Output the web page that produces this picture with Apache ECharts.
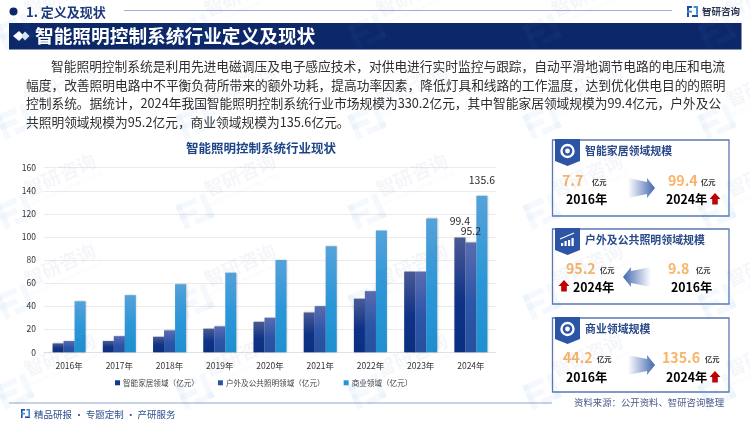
<!DOCTYPE html>
<html><head><meta charset="utf-8">
<style>html,body{margin:0;padding:0;background:#fff}#c{width:750px;height:421px}</style>
<script src="https://cdn.jsdelivr.net/npm/echarts@6/dist/echarts.min.js"></script>
</head><body><div id="c"></div>
<script>
const categories=['2016年','2017年','2018年','2019年','2020年','2021年','2022年','2023年','2024年'];
const smartHome=[7.7,9.8,13.5,20.5,26.5,34.5,46.5,70,99.4];
const outdoor=[9.8,14,19,22.5,30,40,53,70,95.2];
const commercial=[44.2,49.5,59,69,80,92,105.5,116,135.6];
const seriesNames=['智能家居领域（亿元）','户外及公共照明领域（亿元）','商业领域（亿元）'];
const paragraph=[
 '智能照明控制系统是利用先进电磁调压及电子感应技术，对供电进行实时监控与跟踪，自动平滑地调节电路的电压和电流',
 '幅度，改善照明电路中不平衡负荷所带来的额外功耗，提高功率因素，降低灯具和线路的工作温度，达到优化供电目的的照明',
 '控制系统。据统计，2024年我国智能照明控制系统行业市场规模为330.2亿元，其中智能家居领域规模为99.4亿元，户外及公',
 '共照明领域规模为95.2亿元，商业领域规模为135.6亿元。'];

const FF='"Noto Sans CJK SC","Noto Sans",sans-serif';
const NAVY='#0c2869';
const g=[];
function T(text,x,y,size,fill,weight,align,z){g.push({type:'text',silent:true,z:z||5,style:{text,x,y,fontSize:size,fontFamily:FF,fontWeight:weight||'normal',fill,textAlign:align||'left',textVerticalAlign:'middle'}});}
function R(x,y,w,h,fill,stroke,lw,z){g.push({type:'rect',silent:true,z:z||3,shape:{x,y,width:w,height:h},style:{fill,stroke:stroke||null,lineWidth:lw||0}});}
function P(points,fill,z){g.push({type:'polygon',silent:true,z:z||4,shape:{points},style:{fill}});}
function C(cx,cy,r,fill,stroke,lw){g.push({type:'circle',silent:true,z:5,shape:{cx,cy,r},style:{fill,stroke:stroke||null,lineWidth:lw||0}});}
function L(x1,y1,x2,y2,stroke,lw,z){g.push({type:'line',silent:true,z:z||3,shape:{x1,y1,x2,y2},style:{stroke,lineWidth:lw}});}
function logo(x,y,s){
  R(x,y,s*0.45,s*0.18,'#1f4e9e');R(x,y,s*0.18,s,'#1f4e9e');R(x,y+s*0.42,s*0.45,s*0.18,'#3f8fd8');
  R(x+s*0.6,y,s*0.4,s*0.18,'#3f8fd8');R(x+s*0.82,y,s*0.18,s*0.8,'#3f8fd8');R(x+s*0.45,y+s*0.82,s*0.55,s*0.18,'#1f4e9e');
}
// header
C(13.5,11.5,4,NAVY);
T('1. 定义及现状',26,12,13,'#1d3a7c','bold');
L(124,10.5,672,10.5,'#9fb0d6',1.2);
logo(687,6,11);
T('智研咨询',702,11,9.5,'#2a3550','bold');
// title bar
R(9,23,732.5,26.5,NAVY);
P([[13,36],[19,31],[24,36],[19,41]],'#fff');P([[21,36],[25,31.5],[29.5,36],[25,40.5]],'#dfe6f4');
T('智能照明控制系统行业定义及现状',35,36,18.7,'#fff','bold');
// paragraph
const pY=[66,85,103,122];
paragraph.forEach((t,i)=>T(t,i===0?51:26,pY[i],12.72,'#2e2e2e'));
// chart title
T('智能照明控制系统行业现状',261,148,12.5,'#1c4587','bold','center');
// footer
L(9,403,552,403,'#8fa3cf',1.2);
logo(21,409,9);
T('精品研报 · 专题定制 · 产研服务',34,414,9.5,'#2f4f8f');
T('资料来源：公开资料、智研咨询整理',574,402,9.4,'#4a5a8a');

// cards
function card(y,h,title,icon){
  R(552.5,y,176.5,h,'#fff','#5a78b4',1.3);
  P([[555,y-1],[580,y-1],[580,y+21],[567.5,y+26],[555,y+21]],'#2c55a6');
  if(icon==='ring'){C(567.5,y+11,6,'#2c55a6','#fff',2.4);C(567.5,y+11,2.4,'#fff');}
  else{[[561,8,3],[564.5,6,5],[568,9,6],[571.5,4,8]].forEach(a=>R(a[0],y+17-a[2],2.2,a[2],'#fff',null,0,6));L(560,y+10,574,y+4,'#fff',1.2,6);}
  T(title,585,y+11,10.9,'#2b4a8a','bold');
}
const ORANGE='#f8b469';
const VF=14.2;
function redUp(x,y){P([[x,y-6],[x+5.5,y],[x+2.8,y],[x+2.8,y+5.5],[x-2.8,y+5.5],[x-2.8,y],[x-5.5,y]],'#c00000',6);}
function arrow(x0,x1,cy,dir){
  const hx=x1-8*1;
  let pts=[[x0,cy-10],[hx,cy-6],[hx,cy-10],[x1,cy],[hx,cy+10],[hx,cy+6],[x0,cy+10]];
  let grad={type:'linear',x:0,y:0,x2:1,y2:0,colorStops:[{offset:0,color:'rgba(70,105,175,0)'},{offset:1,color:'#3f66ad'}]};
  if(dir<0){pts=pts.map(p=>[x0+x1-p[0],p[1]]);grad={type:'linear',x:1,y:0,x2:0,y2:0,colorStops:grad.colorStops};}
  P(pts,grad);
}
card(140,76,'智能家居领域规模','ring');
T('7.7',562,181,VF,ORANGE,'bold');T('亿元',592,182,7.3,'#333','bold');
T('99.4',668,181,VF,ORANGE,'bold');T('亿元',701,182,7.3,'#333','bold');
T('2016年',566,199,12.3,'#000','bold');T('2024年',666,199,12.3,'#000','bold');
redUp(715,199);arrow(628,655,188,1);

card(229,75,'户外及公共照明领域规模','bars');
T('95.2',566,269,VF,ORANGE,'bold');T('亿元',600,270,7.3,'#333','bold');
T('9.8',668,269,VF,ORANGE,'bold');T('亿元',696,270,7.3,'#333','bold');
T('2024年',573,287,12.3,'#000','bold');T('2016年',671,287,12.3,'#000','bold');
redUp(564,286);arrow(623,651,277,-1);

card(318,74,'商业领域规模','ring');
T('44.2',563,358,VF,ORANGE,'bold');T('亿元',597,359,7.3,'#333','bold');
T('135.6',662,358,VF,ORANGE,'bold');T('亿元',705,359,7.3,'#333','bold');
T('2016年',566,377,12.3,'#000','bold');T('2024年',666,377,12.3,'#000','bold');
redUp(715,377);arrow(628,655,365,1);

// watermarks
const wmX=[60,240,412,587,762],wmY=[-5,85,175,265,355];
wmX.forEach(x=>wmY.forEach(y=>{
  const children=[];
  children.push({type:'text',silent:true,z:20,style:{text:'智研咨询',x:0,y:0,fontSize:19,fontFamily:FF,fontWeight:'bold',fill:'rgba(60,100,170,0.055)',textAlign:'center',textVerticalAlign:'middle',letterSpacing:3}});
  children.push({type:'text',silent:true,z:20,style:{text:'INTELLIGENCE RESEARCH GROUP',x:0,y:15,fontSize:5,fontFamily:FF,fill:'rgba(60,100,170,0.05)',textAlign:'center',textVerticalAlign:'middle'}});
  [[-72,-6,22,6],[-72,-6,6,26],[-72,4,18,6],[-46,-6,6,26],[-60,14,20,6]].forEach(r=>{
    children.push({type:'rect',silent:true,z:20,shape:{x:r[0],y:r[1]+8,width:r[2],height:r[3]},style:{fill:'rgba(60,130,210,0.05)'}});
  });
  g.push({type:'group',silent:true,z:20,x,y,rotation:Math.PI/7.5,children});
}));

function grad(top,mid,bot){return {type:'linear',x:0,y:0,x2:0,y2:1,colorStops:[{offset:0,color:top},{offset:0.55,color:mid},{offset:1,color:bot}]};}
const styles=[grad('#4a5a94','#0f3286','#0a2f80'),grad('#5a6cb0','#2d55a8','#27509f'),grad('#55a2da','#2996d8','#1f8fd0')];
const legendColors=['#103a8c','#2d55a8','#2595d8'];
const labelDist=[11,6,11];
function mk(arr,i){
  const last=arr.length-1;
  return {name:seriesNames[i],type:'bar',barWidth:11,barGap:0,z:2,
    itemStyle:{color:styles[i],shadowColor:'rgba(0,0,0,0.22)',shadowBlur:2,shadowOffsetX:0.5,shadowOffsetY:0},
    data:arr.map((v,k)=>k===last?{value:v,label:{show:true,position:'top',distance:labelDist[i],fontSize:10.5,color:'#2a2a2a',fontFamily:FF}}:v)};
}
const chart=echarts.init(document.getElementById('c'),null,{renderer:'canvas',width:750,height:421});
chart.setOption({
  animation:false,backgroundColor:'#fff',color:legendColors,
  grid:{left:44,right:254,top:167.7,bottom:68.7},
  legend:{left:115,top:379,itemWidth:5,itemHeight:5,itemGap:19,icon:'rect',padding:0,textStyle:{fontSize:7.6,color:'#444',fontFamily:FF,padding:[0,0,0,-2]},
    data:seriesNames.map((n,i)=>({name:n,itemStyle:{color:legendColors[i],shadowBlur:0}}))},
  xAxis:{type:'category',data:categories,axisTick:{show:false},axisLine:{lineStyle:{color:'#e2e2e2',width:1}},axisLabel:{fontSize:8.5,color:'#333',margin:9,fontFamily:FF}},
  yAxis:{type:'value',min:0,max:160,interval:20,axisLine:{show:false},axisTick:{show:false},splitLine:{lineStyle:{color:'#ebebeb',width:1.2}},axisLabel:{fontSize:8.5,color:'#333',margin:8,fontFamily:FF}},
  series:[mk(smartHome,0),mk(outdoor,1),mk(commercial,2)],
  graphic:{elements:g}
});
</script></body></html>
